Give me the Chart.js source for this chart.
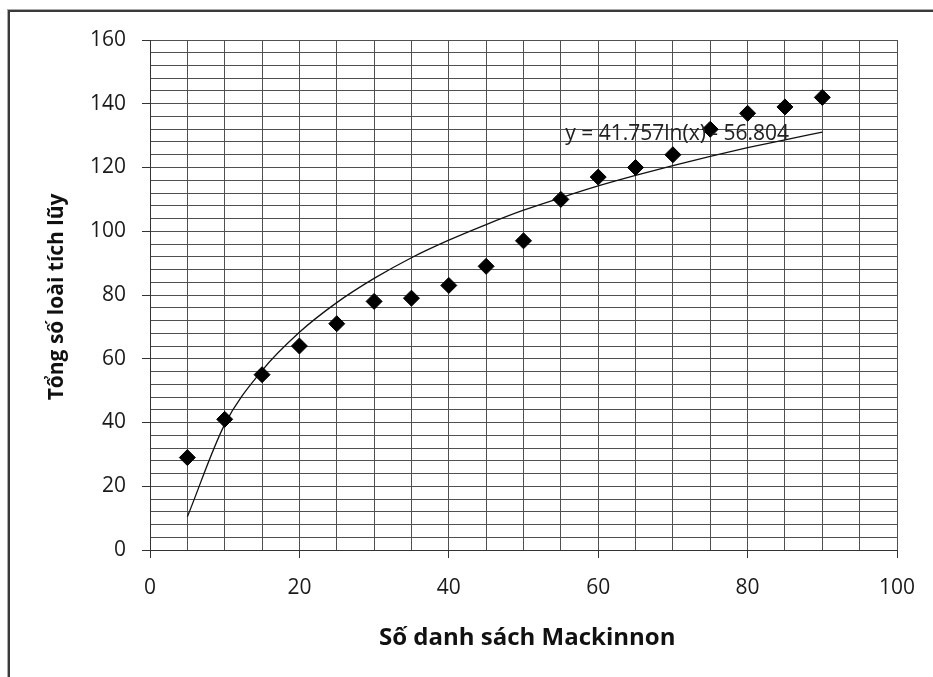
<!DOCTYPE html>
<html>
<head>
<meta charset="utf-8">
<script src="https://cdn.jsdelivr.net/npm/chart.js@4.4.1/dist/chart.umd.min.js"></script>
<style>
  html, body { margin: 0; padding: 0; background: #fff; }
  #wrap { position: relative; width: 933px; height: 677px; overflow: hidden; }
  #frame { position: absolute; left: 8px; top: 10px; width: 1000px; height: 1000px;
           border-left: 2px solid #3a3a3a; border-top: 2px solid #3a3a3a; box-shadow: -1px -1px 0 #aaa; }
  canvas { position: absolute; left: 0; top: 0; }
</style>
</head>
<body>
<div id="wrap">
  <div id="frame"></div>
  <canvas id="chart" width="933" height="677"></canvas>
</div>
<script>
// x: number of Mackinnon lists, y: cumulative species
const listCounts = [5, 10, 15, 20, 25, 30, 35, 40, 45, 50, 55, 60, 65, 70, 75, 80, 85, 90];
const speciesTotals = [29, 41, 55, 64, 71, 78, 79, 83, 89, 97, 110, 117, 120, 124, 132, 137, 139, 142];
// trendline (log fit)
const trendValues = [10.4, 39.4, 56.3, 68.3, 77.6, 85.2, 91.7, 97.2, 102.1, 106.6, 110.5, 114.2, 117.5, 120.6, 123.5, 126.2, 128.7, 131.1];
const trendLabel = 'y = 41.757ln(x) - 56.804';
const xTitle = 'Số danh sách Mackinnon';
const yTitle = 'Tổng số loài tích lũy';

const FONT = '"Open Sans", Lato, sans-serif';
const gridColor = '#505050';

const annotations = {
    id: 'annotations',
    afterDatasetsDraw(chart) {
        const { ctx, chartArea, scales } = chart;
        ctx.save();
        // trendline equation
        ctx.fillStyle = '#222';
        ctx.font = '21px ' + FONT;
        ctx.textBaseline = 'middle';
        ctx.textAlign = 'left';
        ctx.fillText(trendLabel, scales.x.getPixelForValue(55.6), scales.y.getPixelForValue(130.5));

        // axis titles
        ctx.fillStyle = '#111';
        ctx.textAlign = 'center';
        ctx.font = 'bold 24px ' + FONT;
        ctx.fillText(xTitle, scales.x.getPixelForValue(50.5), chartArea.bottom + 88);
        ctx.font = 'bold 21px ' + FONT;
        ctx.translate(57, scales.y.getPixelForValue(79.4));
        ctx.rotate(-Math.PI / 2);
        ctx.fillText(yTitle, 0, 0);
        ctx.restore();
    }
};

new Chart(document.getElementById('chart').getContext('2d'), {
    type: 'scatter',
    data: {
        datasets: [
            {
                label: 'Species',
                data: listCounts.map((x, i) => ({ x, y: speciesTotals[i] })),
                pointStyle: 'rectRot',
                pointRadius: 8,
                backgroundColor: '#000',
                borderColor: '#000',
                borderWidth: 1,
                showLine: false,
                order: 1
            },
            {
                label: 'Log trend',
                data: listCounts.map((x, i) => ({ x, y: trendValues[i] })),
                showLine: true,
                borderColor: '#111',
                borderWidth: 1.3,
                pointRadius: 0,
                cubicInterpolationMode: 'monotone',
                order: 2
            }
        ]
    },
    options: {
        responsive: false,
        animation: false,
        layout: { padding: { top: 40, right: 36, left: 0, bottom: 0 } },
        plugins: {
            legend: { display: false },
            tooltip: { enabled: false }
        },
        scales: {
            x: {
                type: 'linear',
                min: 0,
                max: 100,
                ticks: {
                    stepSize: 5,
                    autoSkip: false,
                    maxRotation: 0,
                    padding: 17,
                    color: '#1a1a1a',
                    font: { family: FONT, size: 21 },
                    callback: v => (v % 20 === 0 ? v : '')
                },
                grid: {
                    color: gridColor,
                    lineWidth: 1,
                    tickLength: 8,
                    tickColor: c => (c.tick && c.tick.value % 20 === 0 ? '#333' : 'rgba(0,0,0,0)')
                },
                border: { color: '#333', width: 1 },
                afterFit(scale) { scale.height = 127; }
            },
            y: {
                min: 0,
                max: 160,
                ticks: {
                    stepSize: 4,
                    autoSkip: false,
                    padding: 16,
                    color: '#1a1a1a',
                    font: { family: FONT, size: 21 },
                    callback: v => (v % 20 === 0 ? v : '')
                },
                grid: {
                    color: gridColor,
                    lineWidth: 1,
                    tickLength: 8,
                    tickColor: c => (c.tick && c.tick.value % 20 === 0 ? '#333' : 'rgba(0,0,0,0)')
                },
                border: { color: '#333', width: 1 },
                afterFit(scale) { scale.width = 150; }
            }
        }
    },
    plugins: [annotations]
});
</script>
</body>
</html>
